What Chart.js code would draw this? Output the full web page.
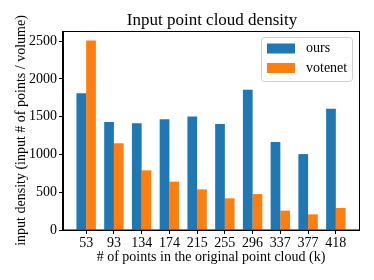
<!DOCTYPE html>
<html>
<head>
<meta charset="utf-8">
<script src="https://cdn.jsdelivr.net/npm/chart.js@4"></script>
<style>
html,body{margin:0;padding:0;background:#fff;}
#wrap{width:374px;height:280px;}
</style>
</head>
<body>
<div id="wrap"><canvas id="c" width="374" height="280"></canvas></div>
<script>
const categories = ["53","93","134","174","215","255","296","337","377","418"];
const oursValues = [1810,1430,1415,1468,1504,1402,1856,1164,1005,1605];
const votenetValues = [2510,1150,790,640,538,419,476,256,207,291];
const yTickValues = [0,500,1000,1500,2000,2500];
const seriesNames = ["ours","votenet"];
const seriesColors = ["#1f77b4","#ff7f0e"];
const titleText = "Input point cloud density";
const xTitle = "# of points in the original point cloud (k)";
const yTitle = "input density (input # of points / volume)";

const FONT = "'Liberation Serif', 'DejaVu Serif', serif";

const toPoints = arr => arr.map((v,i)=>({x:i,y:v}));

const decor = {
  id:'decor',
  beforeDraw(chart){
    const ctx = chart.ctx;
    ctx.save();
    ctx.fillStyle = '#fff';
    ctx.fillRect(0,0,chart.width,chart.height);
    ctx.restore();
  },
  afterDraw(chart){
    const ctx = chart.ctx;
    const a = chart.chartArea;
    ctx.save();
    ctx.strokeStyle = '#000';
    ctx.lineWidth = 1;
    ctx.strokeRect(Math.round(a.left)-0.5, Math.round(a.top)+0.5, Math.round(a.right-a.left)+1, Math.round(a.bottom-a.top)-0.5);
    ctx.fillStyle = '#000';
    ctx.font = "17px " + FONT;
    ctx.textAlign = 'center';
    ctx.textBaseline = 'middle';
    ctx.fillText(titleText, 212, 21);
    const lx = 261.5, ly = 37.5, lw = 91, lh = 44, r = 3;
    ctx.beginPath();
    ctx.moveTo(lx+r, ly);
    ctx.lineTo(lx+lw-r, ly); ctx.quadraticCurveTo(lx+lw, ly, lx+lw, ly+r);
    ctx.lineTo(lx+lw, ly+lh-r); ctx.quadraticCurveTo(lx+lw, ly+lh, lx+lw-r, ly+lh);
    ctx.lineTo(lx+r, ly+lh); ctx.quadraticCurveTo(lx, ly+lh, lx, ly+lh-r);
    ctx.lineTo(lx, ly+r); ctx.quadraticCurveTo(lx, ly, lx+r, ly);
    ctx.closePath();
    ctx.fillStyle = 'rgba(255,255,255,0.8)';
    ctx.fill();
    ctx.strokeStyle = '#d0d0d0';
    ctx.stroke();
    ctx.font = "14px " + FONT;
    ctx.textAlign = 'left';
    ctx.textBaseline = 'middle';
    chart.data.datasets.forEach((ds, i) => {
      const y = 43.5 + i*19.5;
      ctx.fillStyle = ds.backgroundColor;
      ctx.fillRect(267, y, 28, 10);
      ctx.fillStyle = '#000';
      ctx.fillText(ds.label, 306, y+5);
    });
    ctx.restore();
  }
};

new Chart(document.getElementById('c'), {
  type: 'bar',
  data: {
    datasets: [
      {label: seriesNames[0], data: toPoints(oursValues), backgroundColor: seriesColors[0], borderWidth: 0},
      {label: seriesNames[1], data: toPoints(votenetValues), backgroundColor: seriesColors[1], borderWidth: 0}
    ]
  },
  options: {
    responsive: false,
    animation: false,
    devicePixelRatio: 1,
    layout: {padding: {left: 0, right: 15, top: 31, bottom: 0}},
    plugins: {legend: {display: false}, title: {display: false}, tooltip: {enabled: false}},
    datasets: {bar: {categoryPercentage: 0.7, barPercentage: 1.0}},
    scales: {
      x: {
        type: 'linear',
        offset: false,
        min: -0.835, max: 9.835,
        afterBuildTicks(scale){ scale.ticks = categories.map((c,i)=>({value:i})); },
        afterFit(scale){ scale.height = 50; },
        ticks: {
          autoSkip: false, maxRotation: 0, padding: 1, color: '#000',
          font: {family: FONT, size: 14},
          callback: (v) => categories[Math.round(v)]
        },
        grid: {display: true, offset: false, drawOnChartArea: false, drawTicks: true, tickLength: 4, tickColor: '#000'},
        border: {display: true, color: '#000'},
        title: {display: true, text: xTitle, color: '#000', font: {family: FONT, size: 14}, padding: {top: 0, bottom: 14}}
      },
      y: {
        min: 0, max: 2635,
        afterBuildTicks(scale){ scale.ticks = yTickValues.map(v=>({value:v})); },
        afterFit(scale){ scale.width = 63; },
        ticks: {padding: 2, color: '#000', font: {family: FONT, size: 14}, callback: (v) => String(v)},
        grid: {display: true, drawOnChartArea: false, drawTicks: true, tickLength: 4, tickColor: '#000'},
        border: {display: true, color: '#000'},
        title: {display: true, text: yTitle, color: '#000', font: {family: FONT, size: 14}, padding: {top: 13, bottom: 0}}
      }
    }
  },
  plugins: [decor]
});
</script>
</body>
</html>
